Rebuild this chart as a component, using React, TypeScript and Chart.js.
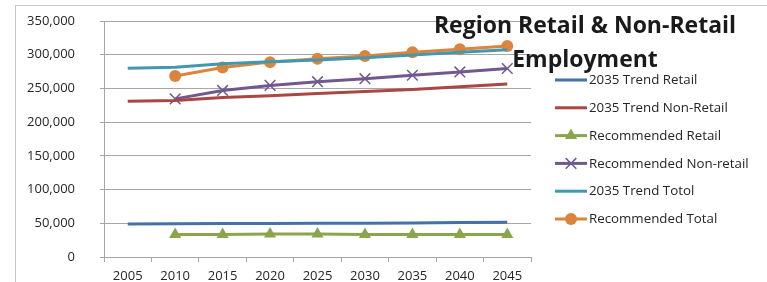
import React, { useEffect, useRef } from "react";
import { Chart, registerables } from "chart.js";

Chart.register(...registerables);

const years = ["2005", "2010", "2015", "2020", "2025", "2030", "2035", "2040", "2045"];
const trendRetail = [49000, 49200, 49500, 49800, 50000, 50200, 50500, 51000, 51500];
const trendNonRetail = [231000, 232000, 236500, 239000, 242500, 245500, 248500, 252500, 256500];
const recRetail = [null, 33500, 33500, 34000, 34000, 33500, 33500, 33500, 33500];
const recNonRetail = [null, 234500, 247000, 254500, 260000, 264500, 269500, 274500, 279500];
const trendTotal = [280000, 281500, 286500, 289500, 292000, 295500, 299500, 303500, 307500];
const recTotal = [null, 268500, 281000, 289000, 294000, 298000, 303500, 308000, 313000];

const seriesNames = [
  "2035 Trend Retail",
  "2035 Trend Non-Retail",
  "Recommended Retail",
  "Recommended Non-retail",
  "2035 Trend Totol",
  "Recommended Total",
];
const titleLines = ["Region Retail & Non-Retail", "Employment"];

const FONT = "'Open Sans', 'DejaVu Sans', sans-serif";

const colors = ["#4572A7", "#AA4643", "#89A54E", "#71588F", "#4198AF", "#DB843D"];

function drawMarker(ctx: CanvasRenderingContext2D, style: string, x: number, y: number, r: number, color: string) {
  ctx.save();
  ctx.fillStyle = color;
  ctx.strokeStyle = color;
  if (style === "triangle") {
    ctx.beginPath();
    for (let k = 0; k < 3; k++) {
      const a = (k * 2 * Math.PI) / 3;
      const px = x + Math.sin(a) * r;
      const py = y - Math.cos(a) * r;
      if (k === 0) ctx.moveTo(px, py);
      else ctx.lineTo(px, py);
    }
    ctx.closePath();
    ctx.fill();
  } else if (style === "crossRot") {
    const o = Math.cos(Math.PI / 4) * r;
    ctx.lineWidth = 1.5;
    ctx.beginPath();
    ctx.moveTo(x - o, y - o);
    ctx.lineTo(x + o, y + o);
    ctx.moveTo(x - o, y + o);
    ctx.lineTo(x + o, y - o);
    ctx.stroke();
  } else if (style === "circle") {
    ctx.beginPath();
    ctx.arc(x, y, r, 0, Math.PI * 2);
    ctx.fill();
  }
  ctx.restore();
}

const overlayPlugin = {
  id: "overlay",
  afterDraw(chart: any) {
    const ctx: CanvasRenderingContext2D = chart.ctx;
    ctx.save();
    // legend
    const lx0 = 555;
    const lx1 = 587;
    const ly0 = 80;
    const step = 27.8;
    chart.data.datasets.forEach((ds: any, i: number) => {
      const y = ly0 + i * step;
      ctx.strokeStyle = ds.borderColor;
      ctx.lineWidth = 3;
      ctx.beginPath();
      ctx.moveTo(lx0, y);
      ctx.lineTo(lx1, y);
      ctx.stroke();
      if (ds.pointRadius > 0) {
        drawMarker(ctx, ds.pointStyle, (lx0 + lx1) / 2, y, ds.pointRadius, ds.borderColor);
      }
      ctx.fillStyle = "#262626";
      ctx.font = `13.3px ${FONT}`;
      ctx.textAlign = "left";
      ctx.textBaseline = "middle";
      ctx.fillText(ds.label, 589, y + 0.5);
    });
    // title
    ctx.fillStyle = "#1a1a1a";
    ctx.font = `bold 23px ${FONT}`;
    ctx.textAlign = "center";
    ctx.textBaseline = "alphabetic";
    ctx.fillText(titleLines[0], 585, 33);
    ctx.fillText(titleLines[1], 585, 67);
    ctx.restore();
  },
};

export default function App() {
  const ref = useRef<HTMLCanvasElement | null>(null);
  useEffect(() => {
    if (!ref.current) return;
    const mk = (i: number, data: any[], pointStyle: string | false, radius: number) => ({
      label: seriesNames[i],
      data,
      borderColor: colors[i],
      backgroundColor: colors[i],
      borderWidth: 3,
      pointStyle: pointStyle || "circle",
      pointRadius: radius,
      pointHoverRadius: radius,
      pointBorderWidth: pointStyle === "crossRot" ? 1.5 : 0,
      pointBorderColor: colors[i],
      pointBackgroundColor: colors[i],
      tension: 0,
      spanGaps: false,
    });
    const chart = new Chart(ref.current, {
      type: "line",
      data: {
        labels: years,
        datasets: [
          mk(0, trendRetail, false, 0),
          mk(1, trendNonRetail, false, 0),
          mk(2, recRetail, "triangle", 7),
          mk(3, recNonRetail, "crossRot", 7.5),
          mk(4, trendTotal, false, 0),
          mk(5, recTotal, "circle", 6),
        ],
      },
      options: {
        responsive: false,
        animation: false,
        devicePixelRatio: 1,
        layout: { padding: { left: 0, top: 21, right: 236, bottom: 0 } },
        plugins: {
          legend: { display: false },
          title: { display: false },
          tooltip: { enabled: false },
        },
        scales: {
          x: {
            type: "category",
            offset: true,
            grid: {
              offset: true,
              drawOnChartArea: false,
              drawTicks: true,
              tickLength: 5,
              color: "#a6a6a6",
            },
            border: { display: true, color: "#a6a6a6" },
            ticks: {
              color: "#262626",
              font: { family: FONT, size: 13 },
              padding: 6,
              maxRotation: 0,
              autoSkip: false,
            },
            afterFit(scale: any) {
              scale.height = 25;
              scale.paddingLeft = 0;
              scale.paddingRight = 0;
            },
          },
          y: {
            min: 0,
            max: 350000,
            grid: {
              color: "#a6a6a6",
              tickLength: 4,
            },
            border: { display: true, color: "#a6a6a6" },
            ticks: {
              stepSize: 50000,
              color: "#262626",
              font: { family: FONT, size: 13 },
              padding: 25,
              callback: (v: any) => Number(v).toLocaleString("en-US"),
            },
            afterFit(scale: any) {
              scale.width = 104;
              scale.paddingTop = 0;
              scale.paddingBottom = 0;
            },
          },
        },
      },
      plugins: [overlayPlugin],
    });
    return () => chart.destroy();
  }, []);

  return (
    <div style={{ position: "fixed", left: 0, top: 0, width: 767, height: 282, overflow: "hidden", background: "#fff" }}>
      <canvas ref={ref} width={767} height={282} style={{ position: "absolute", left: 0, top: 0, width: 767, height: 282 }} />
      <div
        style={{
          position: "absolute",
          left: 15,
          top: 5,
          width: 900,
          height: 400,
          border: "1px solid #c8c8c8",
          pointerEvents: "none",
        }}
      />
    </div>
  );
}
